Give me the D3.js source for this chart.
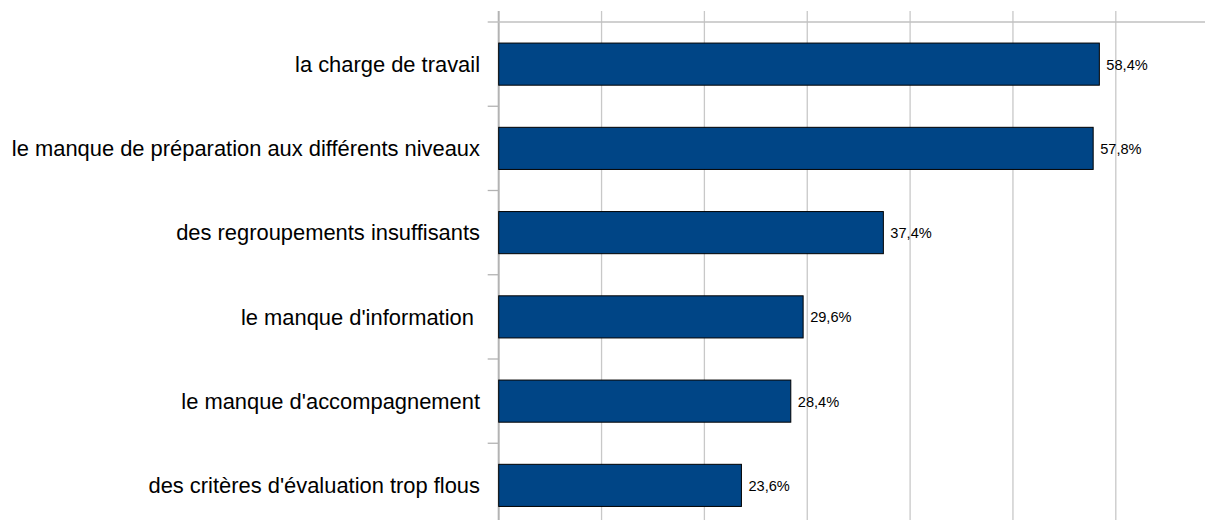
<!DOCTYPE html>
<html>
<head>
<meta charset="utf-8">
<script src="https://cdn.jsdelivr.net/npm/d3@7"></script>
<style>
  html, body { margin: 0; padding: 0; background: #fff; }
  svg { display: block; }
  text { white-space: pre; }
</style>
</head>
<body>
<svg id="chart" width="1205" height="520"></svg>
<script>
// Reasons cited, share of respondents (%)
const categories = [
  "la charge de travail",
  "le manque de préparation aux différents niveaux",
  "des regroupements insuffisants",
  "le manque d'information ",
  "le manque d'accompagnement",
  "des critères d'évaluation trop flous"
];
const values = [58.4, 57.8, 37.4, 29.6, 28.4, 23.6];
const tickValues = [0, 10, 20, 30, 40, 50, 60];

const W = 1205, H = 520;
const svg = d3.select("#chart");

const x = d3.scaleLinear().domain([0, 60]).range([498.7, 1115.8]);
const y = d3.scaleBand().domain(categories).range([22, 527.5]).paddingInner(0.5).paddingOuter(0.25);

const fmt = v => d3.format(".1f")(v).replace(".", ",") + "%";

// vertical gridlines (extend above the top axis line as tick marks)
svg.append("g")
  .selectAll("line")
  .data(tickValues)
  .join("line")
  .attr("x1", d => x(d)).attr("x2", d => x(d))
  .attr("y1", 11).attr("y2", H)
  .attr("stroke", d => d === 0 ? "#b3b3b3" : "#c8c8c8")
  .attr("stroke-width", d => d === 0 ? 2 : 1.3);

// top axis line
svg.append("line")
  .attr("x1", 487.7).attr("x2", W)
  .attr("y1", 22).attr("y2", 22)
  .attr("stroke", "#c0c0c0").attr("stroke-width", 1.5);

// category boundary ticks on the left axis
const bounds = d3.range(1, categories.length).map(i => 22 + y.step() * i);
svg.append("g")
  .selectAll("line")
  .data(bounds)
  .join("line")
  .attr("x1", 487.7).attr("x2", x(0))
  .attr("y1", d => d).attr("y2", d => d)
  .attr("stroke", "#b3b3b3").attr("stroke-width", 1.3);

// bars
svg.append("g")
  .selectAll("rect")
  .data(values)
  .join("rect")
  .attr("x", x(0))
  .attr("y", (d, i) => y(categories[i]))
  .attr("width", d => x(d) - x(0))
  .attr("height", y.bandwidth())
  .attr("fill", "#004586")
  .attr("stroke", "#000")
  .attr("stroke-width", 1);

// value labels
svg.append("g")
  .selectAll("text")
  .data(values)
  .join("text")
  .attr("x", d => x(d) + 7)
  .attr("y", (d, i) => y(categories[i]) + y.bandwidth() / 2)
  .attr("dy", "0.38em")
  .attr("font-family", "Liberation Sans, Arial, sans-serif")
  .attr("font-size", 14.6)
  .attr("fill", "#000")
  .text(fmt);

// category labels
svg.append("g")
  .selectAll("text")
  .data(categories)
  .join("text")
  .attr("x", 480)
  .attr("y", d => y(d) + y.bandwidth() / 2)
  .attr("dy", "0.35em")
  .attr("text-anchor", "end")
  .attr("font-family", "Liberation Sans, Arial, sans-serif")
  .attr("font-size", 21.9)
  .attr("fill", "#000")
  .text(d => d);
</script>
</body>
</html>
